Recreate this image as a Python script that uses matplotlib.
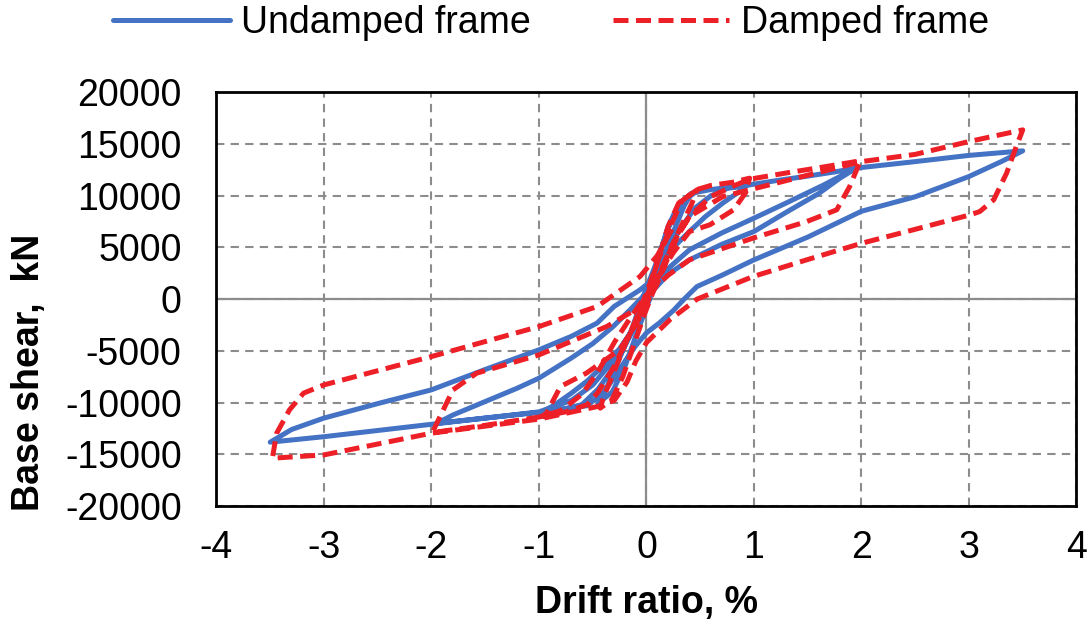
import matplotlib
matplotlib.use('Agg')
from matplotlib import pyplot as plt

# undamped frame, drift ratio (%) / base shear (kN), one continuous path
u_drift = [0, 0.1, 0.2, 0.3, 0.42,
           0.35, 0.25, 0.12, 0.03, -0.08, -0.2, -0.32, -0.45,
           -0.38, -0.27, -0.14, -0.04, 0.08, 0.2, 0.32, 0.45,
           0.6, 0.8, 0.93,
           0.85, 0.71, 0.55, 0.4, 0.25, 0.12, 0.03, -0.05, -0.15, -0.3, -0.45, -0.6, -0.8, -0.96,
           -0.85, -0.7, -0.55, -0.4, -0.25, -0.12, -0.03, 0.05, 0.15, 0.3, 0.45, 0.6, 0.75, 0.93,
           1.2, 1.5, 1.75, 1.95,
           1.8, 1.6, 1.3, 1.0, 0.7, 0.4, 0.2, 0.05, -0.05, -0.15, -0.3, -0.5, -0.7, -1.0, -1.5, -1.95,
           -1.8, -1.5, -1.2, -1.0, -0.7, -0.5, -0.31, -0.15, 0, 0.15, 0.4, 0.7, 1.0, 1.3, 1.64, 1.95,
           2.5, 3.0, 3.5,
           3.3, 3.0, 2.5, 2.0, 1.5, 1.0, 0.7, 0.47, 0.35, 0.25, 0.12, 0, -0.1, -0.2, -0.3, -0.4, -0.55,
           -1.0, -1.5, -2.0, -2.5, -3.0, -3.5,
           -3.3, -3.0, -2.5, -2.0, -1.5, -1.0, -0.7, -0.46, -0.3, -0.06, 0.05]
u_shear = [0, 3500, 7000, 9200, 10250,
           9000, 6500, 3000, 0, -3000, -6500, -9000, -10060,
           -8800, -6200, -3000, 0, 3200, 6800, 9300, 10300,
           10600, 10850, 10960,
           10300, 9290, 8000, 6540, 5000, 3000, 1000, -1000, -3500, -6500, -8700, -10200, -10700, -10870,
           -10200, -9100, -7900, -6400, -4800, -2800, -800, 1200, 3600, 6600, 8800, 10000, 10700, 11000,
           11450, 11900, 12300, 12670,
           11700, 10200, 8400, 6540, 5300, 3800, 2400, 700, -1200, -3300, -5800, -8300, -9800, -10900, -11500, -12000,
           -11200, -9900, -8600, -7640, -5700, -4300, -2650, -1000, 600, 2500, 4770, 6400, 7830, 9300, 11000, 12670,
           13300, 13900, 14340,
           13300, 11860, 9900, 8500, 6000, 3800, 2300, 1220, 0, -1100, -2300, -3260, -4500, -6000, -7600, -9000, -10300,
           -10950, -11500, -12100, -12700, -13300, -13830,
           -12600, -11500, -10100, -8770, -6800, -4900, -3600, -2320, -700, 900, 1800]

# damped frame
d_drift = [0, 0.1, 0.2, 0.3, 0.47,
           0.42, 0.32, 0.2, 0.08, -0.02, -0.12, -0.22, -0.32, -0.43,
           -0.4, -0.32, -0.22, -0.1, 0, 0.1, 0.22, 0.33, 0.47,
           0.6, 0.8, 0.96,
           0.92, 0.81, 0.59, 0.4, 0.25, 0.1, 0, -0.1, -0.3, -0.45, -0.55, -0.75, -0.975,
           -0.93, -0.8, -0.56, -0.25, -0.1, 0, 0.1, 0.25, 0.4, 0.6, 0.8, 0.96,
           1.3, 1.6, 1.99,
           1.89, 1.77, 1.49, 0.99, 0.4, 0.2, 0, -0.15, -0.3, -0.45, -0.6, -0.8, -1.0, -1.5, -1.99,
           -1.98, -1.8, -1.58, -1.0, -0.37, 0, 0.1, 0.2, 0.3, 0.4, 0.71, 1.33, 2.0,
           2.5, 3.0, 3.5,
           3.44, 3.35, 3.23, 3.1, 3.01, 2.48, 2.0, 1.49, 0.99, 0.47, 0.22, 0, -0.1, -0.18, -0.3, -0.46,
           -1.0, -2.0, -3.0, -3.48,
           -3.44, -3.32, -3.19, -3.0, -2.0, -1.0, -0.46, -0.06, 0.1, 0.25]
d_shear = [0, 3500, 7000, 9300, 10570,
           9200, 7000, 4200, 1200, -1500, -4500, -7500, -9700, -10540,
           -9500, -7500, -4900, -2000, 600, 3500, 7000, 9500, 10600,
           11000, 11300, 11700,
           10250, 8640, 7190, 6540, 4500, 2000, 0, -2200, -6500, -9000, -10200, -10900, -11350,
           -11030, -8450, -7160, -4900, -2500, -500, 2000, 5500, 7990, 9920, 10900, 11600,
           12200, 12700, 13380,
           10890, 8640, 7500, 5900, 3800, 2300, 400, -1800, -4200, -7000, -9200, -10800, -11400, -12200, -12900,
           -12640, -8770, -7160, -5390, -2650, -390, 1500, 4000, 6300, 7990, 9920, 11540, 13300,
           14000, 15240, 16370,
           14760, 12190, 9600, 8470, 8150, 6700, 5400, 3800, 2180, 0, -1970, -4200, -6000, -8000, -9800, -10390,
           -11600, -12960, -15060, -15380,
           -12960, -10700, -9090, -8290, -5550, -2650, -715, 2190, 4200, 7000]

x_ticks = [-4, -3, -2, -1, 0, 1, 2, 3, 4]
y_ticks = [-20000, -15000, -10000, -5000, 0, 5000, 10000, 15000, 20000]

plt.rcParams['font.family'] = ['Liberation Sans', 'DejaVu Sans']

fig = plt.figure(figsize=(10.91, 6.28), dpi=100)
ax = fig.add_axes([0.1984, 0.1943, 0.7883, 0.6587])

ax.set_xlim(-4, 4)
ax.set_ylim(-20000, 20000)
ax.set_xticks(x_ticks)
ax.set_yticks(y_ticks)
ax.set_xticklabels([str(v) for v in x_ticks])
ax.set_yticklabels([str(v) for v in y_ticks])
ax.tick_params(axis='both', length=0, labelsize=27)
ax.tick_params(axis='y', pad=25)
ax.tick_params(axis='x', pad=17)

ax.grid(True, color='#8c8c8c', linestyle=(0, (4, 3)), linewidth=1.5)
ax.axhline(0, color='#8c8c8c', linewidth=1.6, zorder=1)
ax.axvline(0, color='#8c8c8c', linewidth=1.6, zorder=1)
ax.set_axisbelow(True)
for s in ax.spines.values():
    s.set_linewidth(2)
    s.set_color('black')

ax.plot(u_drift, u_shear, color='#4472C4', lw=3.6, solid_joinstyle='round',
        solid_capstyle='round', label='Undamped frame', zorder=3)
ax.plot(d_drift, d_shear, color='#EE2027', lw=3.6, linestyle=(0, (3, 1.5)),
        dash_capstyle='butt', label='Damped frame', zorder=4)

ax.set_xlabel('Drift ratio, %', fontsize=27, fontweight='bold', labelpad=14)
ax.set_ylabel('Base shear,  kN', fontsize=27, fontweight='bold')
ax.yaxis.set_label_coords(-0.197, 0.322)

fig.legend(loc='upper center', bbox_to_anchor=(0.505, 1.045), ncol=2, frameon=False,
           fontsize=27, handlelength=3.1, columnspacing=2.2, handletextpad=0.3)

fig.savefig('out.png', dpi=100)
